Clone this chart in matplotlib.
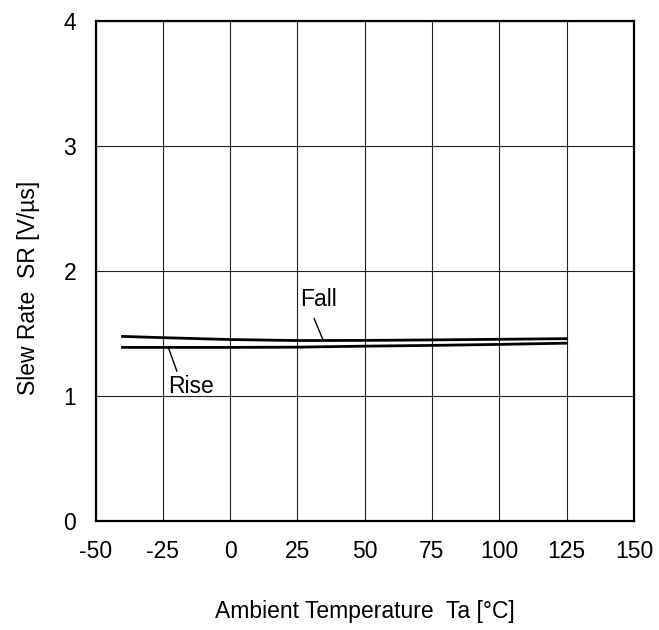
import matplotlib.pyplot as plt

# data
temp = [-40, -25, 0, 25, 50, 75, 100, 125]
sr_fall = [1.478, 1.468, 1.453, 1.445, 1.446, 1.450, 1.455, 1.460]
sr_rise = [1.390, 1.390, 1.390, 1.392, 1.400, 1.406, 1.414, 1.424]

xticks = [-50, -25, 0, 25, 50, 75, 100, 125, 150]
yticks = [0, 1, 2, 3, 4]

plt.rcParams['font.family'] = ['Liberation Sans', 'DejaVu Sans']
plt.rcParams['axes.unicode_minus'] = False

fs = 16.5

fig = plt.figure(figsize=(6.59, 6.30), dpi=100)
ax = fig.add_axes([0.145, 0.173, 0.817, 0.793])

ax.plot(temp, sr_fall, c='k', lw=2.0)
ax.plot(temp, sr_rise, c='k', lw=2.0)

# labels with leader lines
ax.text(33, 1.77, 'Fall', fontsize=fs, ha='center', va='center')
ax.plot([31.2, 34.5], [1.62, 1.45], c='k', lw=1.0)
ax.text(-14.5, 1.08, 'Rise', fontsize=fs, ha='center', va='center')
ax.plot([-22.8, -19.8], [1.38, 1.20], c='k', lw=1.0)

ax.set_xlim(-50, 150)
ax.set_ylim(0, 4)
ax.set_xticks(xticks)
ax.set_yticks(yticks)
ax.grid(True, color='#222222', lw=0.8)
ax.tick_params(length=0, labelsize=fs)
ax.tick_params(axis='x', pad=14)
ax.tick_params(axis='y', pad=14)
for s in ax.spines.values():
    s.set_linewidth(1.6)

ax.set_xlabel('Ambient Temperature  Ta [°C]', fontsize=fs, labelpad=26)
ax.set_ylabel('Slew Rate  SR [V/µs]', fontsize=fs)
ax.yaxis.set_label_coords(-0.104, 0.466)

fig.savefig('out.png', dpi=100)
